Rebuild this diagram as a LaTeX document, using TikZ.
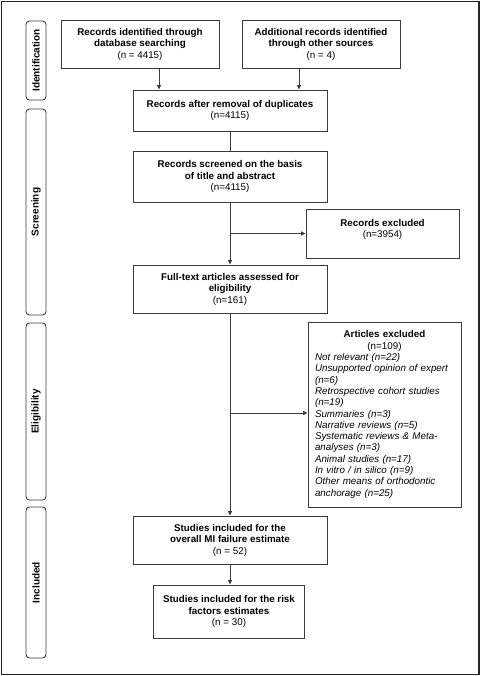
\documentclass[tikz,border=0pt]{standalone}
\usepackage{fontspec}
\setmainfont{Liberation Sans}
\usetikzlibrary{arrows.meta,calc}
\definecolor{boxline}{HTML}{3A3A3A}
\tikzset{
  flowbox/.style={draw=boxline, line width=0.9bp, align=center, inner sep=0pt,
    font=\fontsize{9.8bp}{11.5bp}\selectfont},
  sidebox/.style={draw=boxline, line width=0.9bp, rounded corners=3.5bp, minimum width=20bp,
    inner sep=0pt},
  sidetext/.style={rotate=90, font=\fontsize{10bp}{12bp}\selectfont\bfseries},
  link/.style={draw=boxline, line width=0.9bp},
  arr/.style={link, -{Triangle[length=4.5bp,width=4bp]}},
}
\begin{document}
\begin{tikzpicture}[x=1bp,y=-1bp]
\useasboundingbox (0,0) rectangle (481,676);
\draw[line width=1.6bp, draw=black!85] (1.5,1.5) rectangle (479,674.5);

% side labels
\node[sidebox, minimum height=79bp] (sid) at (36,60.5) {};
\node[sidetext] (tid) at (sid.center) {Identification};
\node[sidebox, minimum height=206bp] (ssc) at (36,212) {};
\node[sidetext] (tsc) at (ssc.center) {Screening};
\node[sidebox, minimum height=177bp] (sel) at (36,411.5) {};
\node[sidetext] (tel) at (sel.center) {Eligibility};
\node[sidebox, minimum height=151bp] (sin) at (36,582.5) {};
\node[sidetext] (tin) at (sin.center) {Included};

% boxes
\node[flowbox, minimum width=158bp, minimum height=48bp] (b1) at (140,44)
  {\textbf{Records identified through}\\\textbf{database searching}\\(n = 4415)};
\node[flowbox, minimum width=158bp, minimum height=48bp] (b2) at (321,44)
  {\textbf{Additional records identified}\\\textbf{through other sources}\\(n = 4)};
\node[flowbox, minimum width=194bp, minimum height=41bp] (b3) at (230,110.5)
  {\textbf{Records after removal of duplicates}\\(n=4115)};
\node[flowbox, minimum width=194bp, minimum height=51bp] (b4) at (230,176.5)
  {\textbf{Records screened on the basis}\\\textbf{of title and abstract}\\(n=4115)};
\node[flowbox, minimum width=153bp, minimum height=49bp] (b5) at (382.5,233.5)
  {\textbf{Records excluded}\\(n=3954)\\[-1bp]\mbox{}};
\node[flowbox, minimum width=194bp, minimum height=48bp] (b6) at (230,289)
  {\textbf{Full-text articles assessed for}\\\textbf{eligibility}\\(n=161)};
\node[flowbox, minimum width=153bp, minimum height=185bp, align=left, text width=139bp,
  font=\fontsize{9.8bp}{11.3bp}\selectfont] (b7) at (384.5,414.5)
  {\makebox[139bp]{\textbf{Articles excluded}}\\
   \makebox[139bp]{(n=109)}\\
   \textit{Not relevant (n=22)}\\
   \textit{Unsupported opinion of expert}\\
   \textit{(n=6)}\\
   \textit{Retrospective cohort studies}\\
   \textit{(n=19)}\\
   \textit{Summaries (n=3)}\\
   \textit{Narrative reviews (n=5)}\\
   \textit{Systematic reviews \& Meta-}\\
   \textit{analyses (n=3)}\\
   \textit{Animal studies (n=17)}\\
   \textit{In vitro / in silico (n=9)}\\
   \textit{Other means of orthodontic}\\
   \textit{anchorage (n=25)}};
\node[flowbox, minimum width=194bp, minimum height=48bp] (b8) at (230,540)
  {\textbf{Studies included for the}\\\textbf{overall MI failure estimate}\\(n = 52)};
\node[flowbox, minimum width=151bp, minimum height=53bp] (b9) at (229,611.5)
  {\textbf{Studies included for the risk}\\\textbf{factors estimates}\\(n = 30)};

% connectors
\coordinate (c1) at ([xshift=19bp]b1.south);
\coordinate (c2) at ([xshift=-22bp]b2.south);
\draw[arr] (c1) -- (c1 |- b3.north);
\draw[arr] (c2) -- (c2 |- b3.north);
\draw[link] (b3.south) -- (b4.north);
\draw[arr] (b4.south) -- (b6.north);
\coordinate (j1) at (b4.south |- b5.west);
\draw[arr] (j1) -- (b5.west);
\draw[arr] (b6.south) -- (b8.north);
\coordinate (j2) at (230,413);
\draw[arr] (j2) -- (j2 -| b7.west);
\draw[arr] (b8.south) -- (b8.south |- b9.north);
\end{tikzpicture}
\end{document}
